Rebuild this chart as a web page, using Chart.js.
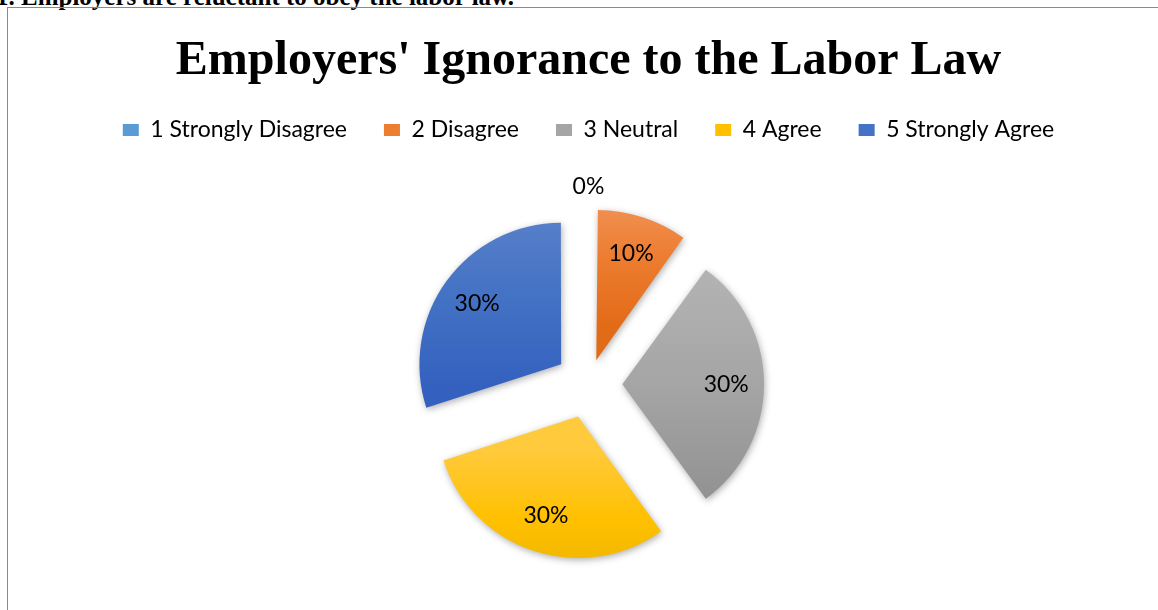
<!DOCTYPE html>
<html>
<head>
<meta charset="utf-8">
<script src="https://cdn.jsdelivr.net/npm/chart.js@4.4.1/dist/chart.umd.min.js"></script>
<style>
  html, body { margin: 0; padding: 0; background: #fff; overflow: hidden; width: 1158px; height: 610px; }
  .caption { position: absolute; left: -4px; top: -16px; font: bold 25px "Liberation Serif", serif; line-height: 25px; color: #000; white-space: nowrap; }
  .box { position: absolute; left: 7px; top: 7px; width: 1161px; height: 640px; border: 1px solid #8a8a8a; }
  canvas { display: block; }
</style>
</head>
<body>
<div class="caption">1. Employers are reluctant to obey the labor law.</div>
<div class="box"><canvas id="pie" width="1161" height="640"></canvas></div>
<script>
const categories = ['1 Strongly Disagree', '2 Disagree', '3 Neutral', '4 Agree', '5 Strongly Agree'];
const shares = [0, 10, 30, 30, 30];
const topColors = ['#6fa6da', '#f2975e', '#b3b3b3', '#ffca3c', '#5b82cb'];
const midColors = ['#5b9bd5', '#ed7d31', '#a5a5a5', '#ffc000', '#4472c4'];
const bottomColors = ['#4a88c6', '#e26b17', '#929292', '#e9b300', '#3461bf'];

const RADIUS = 140;
const EXPLODE = 35.5;
const labelFont = '23px Lato, "Noto Sans", sans-serif';

const total = shares.reduce((a, b) => a + b, 0);

function sweep(i) {
  return 2 * Math.PI * shares[i] / total;
}

// Chart.js shifts an arc by offset/4 * (1 + fix), so scale it back
// to get the same explode distance for every slice
function sliceOffset(ctx) {
  if (ctx.dataIndex === undefined) return 4 * EXPLODE;
  const fix = 1 - Math.sin(Math.min(Math.PI, sweep(ctx.dataIndex)));
  return 4 * EXPLODE / (1 + fix);
}

// vertical gradient fitted to each exploded slice
function sliceFill(ctx) {
  const i = ctx.dataIndex;
  const chart = ctx.chart;
  const area = chart.chartArea;
  if (ctx.type !== 'data' || !area) return midColors[i];
  const cx = (area.left + area.right) / 2;
  const cy = (area.top + area.bottom) / 2;
  const before = shares.slice(0, i).reduce((a, b) => a + b, 0);
  const a0 = -Math.PI / 2 + 2 * Math.PI * before / total;
  const a1 = a0 + sweep(i);
  const mid = (a0 + a1) / 2;
  const oy = cy + Math.sin(mid) * EXPLODE;
  let top = oy, bottom = oy;
  for (let k = 0; k <= 40; k++) {
    const y = oy + Math.sin(a0 + (a1 - a0) * k / 40) * RADIUS;
    top = Math.min(top, y);
    bottom = Math.max(bottom, y);
  }
  if (bottom - top < 1) return midColors[i];
  const g = chart.ctx.createLinearGradient(0, top, 0, bottom);
  g.addColorStop(0, topColors[i]);
  g.addColorStop(0.5, midColors[i]);
  g.addColorStop(1, bottomColors[i]);
  return g;
}

const sliceLabels = {
  id: 'sliceLabels',
  beforeDatasetsDraw(chart) {
    const c = chart.ctx;
    c.save();
    c.shadowColor = 'rgba(0,0,0,0.32)';
    c.shadowBlur = 7;
    c.shadowOffsetX = 1;
    c.shadowOffsetY = 2;
  },
  afterDatasetsDraw(chart) {
    const c = chart.ctx;
    c.restore();
    c.save();
    c.font = labelFont;
    c.fillStyle = '#000';
    c.textAlign = 'center';
    c.textBaseline = 'middle';
    chart.getDatasetMeta(0).data.forEach((arc, i) => {
      const p = arc.getProps(['x', 'y', 'startAngle', 'endAngle', 'outerRadius']);
      const mid = (p.startAngle + p.endAngle) / 2;
      const dist = shares[i] === 0 ? EXPLODE + p.outerRadius + 22 : EXPLODE + p.outerRadius * 0.73;
      const pct = Math.round(shares[i] / total * 100) + '%';
      c.fillText(pct, p.x + Math.cos(mid) * dist, p.y + Math.sin(mid) * dist);
    });
    c.restore();
  }
};

new Chart(document.getElementById('pie'), {
  type: 'pie',
  data: {
    labels: categories,
    datasets: [{
      data: shares,
      backgroundColor: sliceFill,
      borderWidth: 0,
      offset: sliceOffset,
      radius: RADIUS
    }]
  },
  options: {
    responsive: false,
    animation: false,
    radius: RADIUS,
    layout: { padding: { bottom: 31 } },
    plugins: {
      tooltip: { enabled: false },
      title: {
        display: true,
        text: "Employers' Ignorance to the Labor Law",
        color: '#000',
        font: { family: '"Liberation Serif", serif', size: 48, weight: 'bold', lineHeight: 0.8 },
        padding: { top: 34, bottom: 1 }
      },
      legend: {
        position: 'top',
        labels: {
          boxWidth: 16,
          boxHeight: 12,
          padding: 37,
          color: '#000',
          font: { family: 'Lato, "Noto Sans", sans-serif', size: 23 },
          generateLabels: () => categories.map((name, i) => ({
            text: name,
            fillStyle: midColors[i],
            strokeStyle: midColors[i],
            lineWidth: 0,
            index: i
          }))
        }
      }
    }
  },
  plugins: [sliceLabels]
});
</script>
</body>
</html>
